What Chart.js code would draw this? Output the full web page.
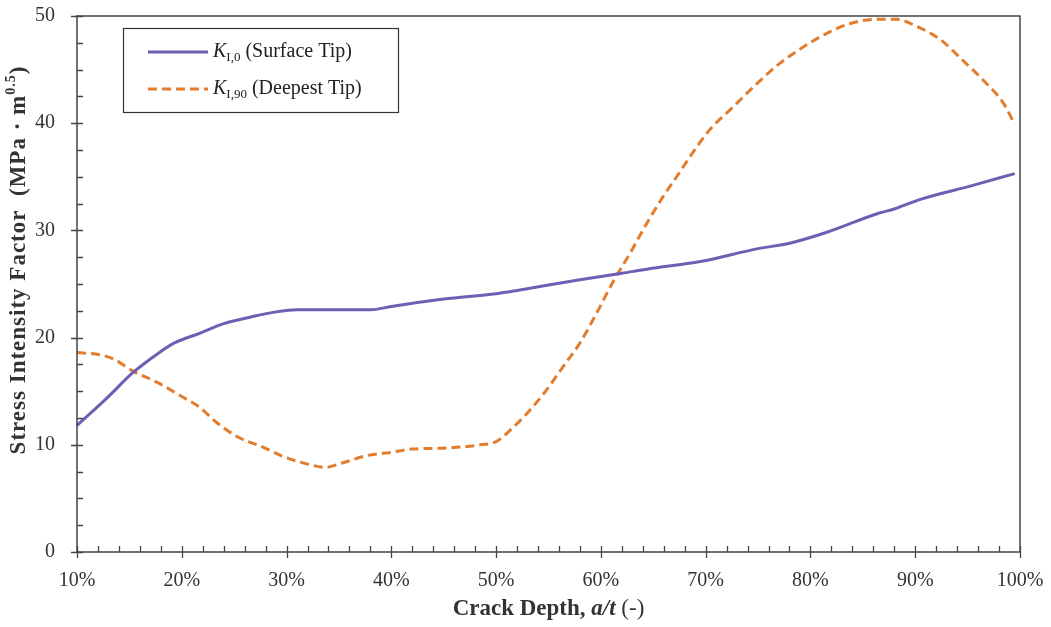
<!DOCTYPE html>
<html>
<head>
<meta charset="utf-8">
<script src="https://cdn.jsdelivr.net/npm/chart.js@4/dist/chart.umd.min.js"></script>
<style>
html, body { margin: 0; background: #fff; }
</style>
</head>
<body>
<canvas id="myCanvas" width="1051" height="627"></canvas>
<script>
// crack depth a/t in %
var depthK0 = [10, 13, 15.3, 17.7, 19.3, 21.7, 24, 26.5, 29, 31, 35, 38, 40, 45, 50, 52, 58, 62, 64.5, 69.5, 75, 78, 81.5, 86.5, 88, 90.5, 95.5, 99.5];
var valsK0 = [11.8, 14.5, 16.7, 18.5, 19.5, 20.4, 21.3, 21.9, 22.4, 22.6, 22.6, 22.6, 22.9, 23.6, 24.1, 24.4, 25.4, 26.0, 26.4, 27.1, 28.3, 28.8, 29.8, 31.6, 32.0, 32.9, 34.2, 35.3];

var depthK90 = [10, 12.2, 13.5, 15.3, 17.7, 20, 21.7, 23.3, 25.4, 27.7, 29.7, 32, 33.7, 35.3, 37.7, 40, 42, 45.3, 48.5, 50, 51.6, 53.2, 54.8, 56.4, 58, 59.6, 61.1, 62.8, 64.4, 65.9, 67.5, 68.8, 70.4, 72.6, 74.9, 77.1, 79.3, 81.6, 83.8, 86.3, 88.2, 90.2, 92.4, 94.5, 96.5, 98.4, 99.5];
var valsK90 = [18.6, 18.4, 18.0, 16.9, 15.8, 14.5, 13.5, 12.1, 10.7, 9.8, 8.9, 8.2, 7.9, 8.3, 9.0, 9.3, 9.6, 9.7, 10.0, 10.3, 11.6, 13.2, 15.1, 17.3, 19.5, 22.3, 25.1, 27.9, 30.7, 33.1, 35.4, 37.3, 39.4, 41.5, 43.7, 45.6, 47.1, 48.4, 49.3, 49.7, 49.7, 49.0, 47.8, 45.9, 44.0, 41.9, 39.9];

var xTicks = [10, 20, 30, 40, 50, 60, 70, 80, 90, 100];
var yTicks = [0, 10, 20, 30, 40, 50];

var colK0 = '#6f5fb4';
var colK90 = '#e27d2e';
var serif = '"Liberation Serif", "Times New Roman", serif';

function punti(xs, ys) {
    var out = [];
    for (var i = 0; i < xs.length; i++) out.push({ x: xs[i], y: ys[i] });
    return out;
}

// ticks, box, titles and legend drawn on top
var decor = {
    id: 'decor',
    afterDraw: function (chart) {
        var ctx = chart.ctx;
        var a = chart.chartArea;
        var sx = chart.scales.x, sy = chart.scales.y;
        ctx.save();
        ctx.strokeStyle = '#444';
        ctx.lineWidth = 1.5;
        ctx.strokeRect(a.left, a.top, a.right - a.left, a.bottom - a.top);

        ctx.lineWidth = 1.3;
        ctx.beginPath();
        for (var v = 10; v <= 100.01; v += 2) {
            var px = Math.round(sx.getPixelForValue(v)) + 0.5;
            var major = Math.abs(v % 10) < 0.01;
            ctx.moveTo(px, a.bottom - 6);
            ctx.lineTo(px, a.bottom + (major ? 6 : 0));
        }
        for (var w = 0; w <= 50.01; w += 2.5) {
            var py = Math.round(sy.getPixelForValue(w)) + 0.5;
            var maj = Math.abs(w % 10) < 0.01;
            ctx.moveTo(a.left + 6, py);
            ctx.lineTo(a.left - (maj ? 6 : 0), py);
        }
        ctx.stroke();

        // x title
        ctx.fillStyle = '#333';
        ctx.textBaseline = 'middle';
        var parts = [
            ['bold 23px ' + serif, 'Crack Depth, '],
            ['bold italic 23px ' + serif, 'a/t'],
            ['23px ' + serif, ' (-)']
        ];
        var tot = 0;
        parts.forEach(function (p) { ctx.font = p[0]; tot += ctx.measureText(p[1]).width; });
        var cx = (a.left + a.right) / 2 - tot / 2;
        parts.forEach(function (p) {
            ctx.font = p[0];
            ctx.fillText(p[1], cx, 609);
            cx += ctx.measureText(p[1]).width;
        });

        // y title, rotated, with superscript
        ctx.save();
        ctx.translate(19, 260);
        ctx.rotate(-Math.PI / 2);
        ctx.letterSpacing = '1px';
        var yp = [
            ['bold 23px ' + serif, 'Stress Intensity Factor  (MPa \u00b7 m', 0],
            ['bold 14px ' + serif, '0.5', -8],
            ['bold 23px ' + serif, ')', 0]
        ];
        var ytot = 0;
        yp.forEach(function (p) { ctx.font = p[0]; ytot += ctx.measureText(p[1]).width; });
        var ty = -ytot / 2;
        yp.forEach(function (p) {
            ctx.font = p[0];
            ctx.fillText(p[1], ty, p[2]);
            ty += ctx.measureText(p[1]).width;
        });
        ctx.restore();

        // legend
        ctx.fillStyle = '#fff';
        ctx.fillRect(123, 28, 275, 84);
        ctx.strokeStyle = '#333';
        ctx.lineWidth = 1.2;
        ctx.strokeRect(123.5, 28.5, 275, 84);
        var righe = [
            { y: 52, col: colK0, dash: [], sub: 'I,0', txt: ' (Surface Tip)' },
            { y: 89, col: colK90, dash: [9, 5], sub: 'I,90', txt: ' (Deepest Tip)' }
        ];
        righe.forEach(function (r) {
            ctx.strokeStyle = r.col;
            ctx.lineWidth = 3;
            ctx.setLineDash(r.dash);
            ctx.beginPath();
            ctx.moveTo(148, r.y);
            ctx.lineTo(208, r.y);
            ctx.stroke();
            ctx.setLineDash([]);
            ctx.fillStyle = '#222';
            var lx = 213;
            ctx.font = 'italic 20px ' + serif;
            ctx.fillText('K', lx, r.y);
            lx += ctx.measureText('K').width;
            ctx.font = '13px ' + serif;
            ctx.fillText(r.sub, lx, r.y + 6);
            lx += ctx.measureText(r.sub).width;
            ctx.font = '20px ' + serif;
            ctx.fillText(r.txt, lx, r.y);
        });
        ctx.restore();
    }
};

var myCanvas = document.getElementById('myCanvas').getContext('2d');
var chart = new Chart(myCanvas, {
    type: 'line',
    data: {
        datasets: [{
            label: 'K I,0 (Surface Tip)',
            data: punti(depthK0, valsK0),
            borderColor: colK0,
            borderWidth: 3,
            pointRadius: 0,
            cubicInterpolationMode: 'monotone',
            fill: false
        }, {
            label: 'K I,90 (Deepest Tip)',
            data: punti(depthK90, valsK90),
            borderColor: colK90,
            borderWidth: 3,
            borderDash: [9, 5],
            pointRadius: 0,
            cubicInterpolationMode: 'monotone',
            fill: false
        }]
    },
    options: {
        responsive: false,
        animation: false,
        clip: false,
        layout: { padding: { top: 16, right: 31, left: 0, bottom: 0 } },
        plugins: { legend: { display: false }, tooltip: { enabled: false } },
        scales: {
            x: {
                type: 'linear',
                min: 10,
                max: 100,
                grid: { display: false },
                border: { display: false },
                afterFit: function (s) { s.height = 75; s.paddingLeft = 0; s.paddingRight = 0; },
                afterBuildTicks: function (s) { s.ticks = xTicks.map(function (v) { return { value: v }; }); },
                ticks: {
                    padding: 9,
                    maxRotation: 0,
                    color: '#333',
                    font: { family: serif, size: 20 },
                    callback: function (v) { return v + '%'; }
                }
            },
            y: {
                min: 0,
                max: 50,
                grid: { display: false },
                border: { display: false },
                afterFit: function (s) { s.width = 77; s.paddingTop = 0; s.paddingBottom = 0; },
                afterBuildTicks: function (s) { s.ticks = yTicks.map(function (v) { return { value: v }; }); },
                ticks: {
                    padding: 14,
                    color: '#333',
                    font: { family: serif, size: 20 }
                }
            }
        }
    },
    plugins: [decor]
});
</script>
</body>
</html>
